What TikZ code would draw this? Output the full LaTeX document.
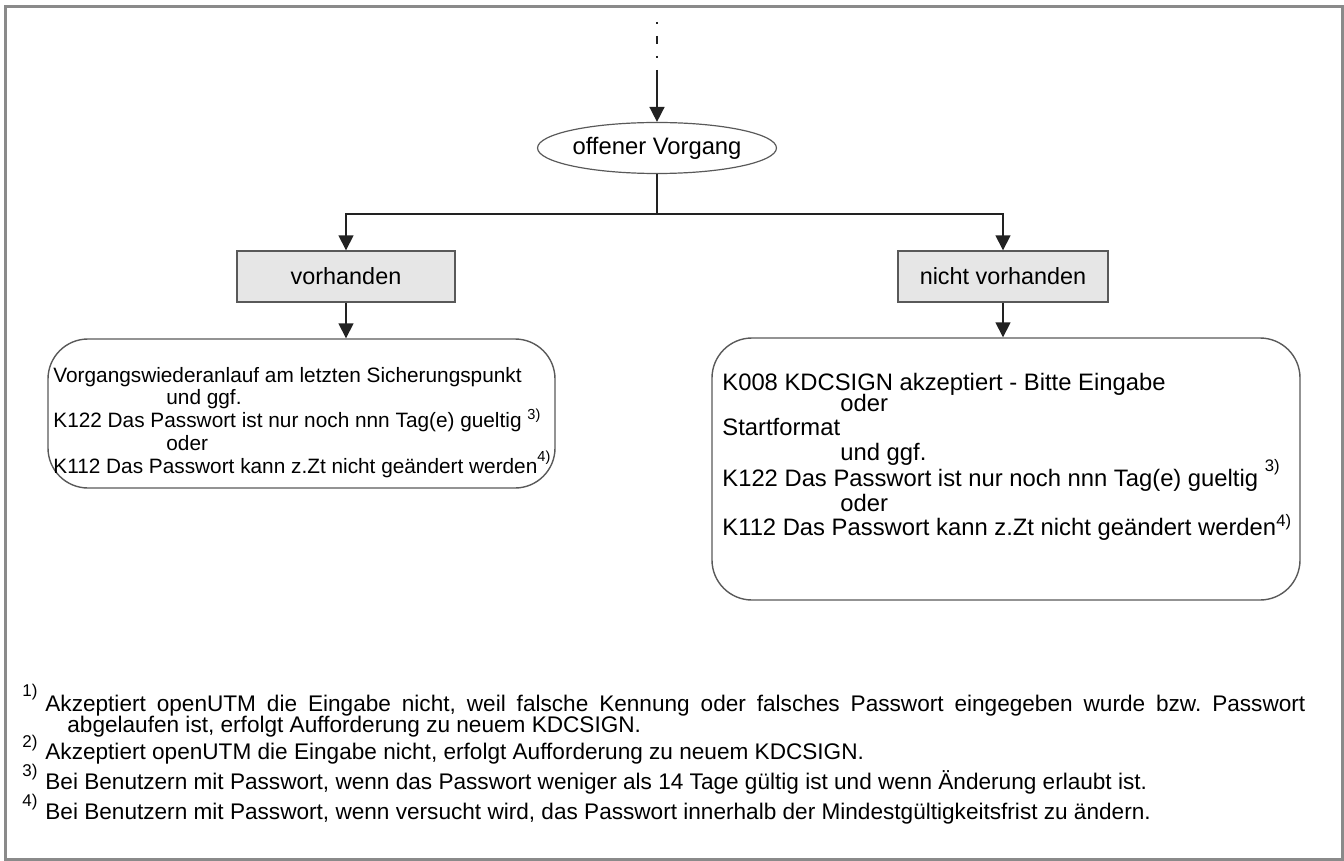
\documentclass[tikz,border=0pt]{standalone}
\usepackage{fontspec}
\setmainfont{Liberation Sans}
\usetikzlibrary{arrows.meta,shapes.geometric,positioning}
\frenchspacing

\definecolor{linegray}{HTML}{222222}
\definecolor{boxgray}{HTML}{E6E6E6}
\definecolor{framegray}{HTML}{8A8A8A}

\tikzset{
  flow/.style={draw=linegray, line width=0.8pt, -{Triangle[width=7.5pt,length=7.5pt]}},
  choicebox/.style={draw=black!65, fill=boxgray, line width=0.7pt, minimum height=25.5pt,
    font=\fontsize{11.7}{13}\selectfont},
  msgbox/.style={draw=black!65, line width=0.7pt, rounded corners=20pt},
  lineL/.style={anchor=base west, inner sep=0pt, font=\fontsize{10.4}{12}\selectfont},
  lineR/.style={anchor=base west, inner sep=0pt, font=\fontsize{11.9}{14}\selectfont},
  fnnum/.style={anchor=base west, inner sep=0pt, font=\fontsize{8.5}{10}\selectfont},
  fntext/.style={anchor=base west, inner sep=0pt, font=\fontsize{11.3}{13}\selectfont}
}

\begin{document}
\begin{tikzpicture}[x=0.5pt, y=-0.5pt]

        \useasboundingbox (0,0) rectangle (1344,861);
        \draw[framegray, line width=1.5pt] (5,7) rectangle (1342,859);

        % Einstieg
        \coordinate (entry) at (657,22);
        \coordinate (entryend) at (657,78);
        \draw[linegray, line width=0.8pt, dash pattern=on 1pt off 6pt on 4pt off 6pt] (entry) -- (entryend);

        \node[ellipse, draw=black!65, line width=0.6pt, minimum width=114pt, minimum height=25.5pt,
              inner sep=0pt, font=\fontsize{11.9}{13}\selectfont] (start) at (657,148) {offener Vorgang};
        \draw[flow] (entryend) -- (start);

        % Verzweigung
        \coordinate (split) at (657,214);
        \node[choicebox, minimum width=109pt] (vorh) at (346,276.5) {vorhanden};
        \node[choicebox, minimum width=105pt] (nvorh) at (1003,276.5) {nicht vorhanden};
        \draw[linegray, line width=0.8pt] (start) -- (split);
        \draw[flow] (split) -| (vorh);
        \draw[flow] (split) -| (nvorh);

        % Meldungen
        \node[msgbox, minimum width=253.5pt, minimum height=74.5pt] (msgL) at (301.5,413.5) {};
        \node[msgbox, minimum width=294pt, minimum height=131pt] (msgR) at (1006,469) {};
        \draw[flow] (vorh) -- (vorh |- msgL.north);
        \draw[flow] (nvorh) -- (nvorh |- msgR.north);

        \node[lineL] (l1) at (53,382) {Vorgangswiederanlauf am letzten Sicherungspunkt};
        \node[lineL] (l2) at (166,404) {und ggf.};
        \node[lineL] (l3) at (53,427) {K122 Das Passwort ist nur noch nnn Tag(e) gueltig \textsuperscript{3)}};
        \node[lineL] (l4) at (166,450) {oder};
        \node[lineL] (l5) at (53,473) {K112 Das Passwort kann z.Zt nicht geändert werden\raisebox{2pt}{\textsuperscript{4)}}};

        \node[lineR] (r1) at (722,390) {K008 KDCSIGN akzeptiert - Bitte Eingabe};
        \node[lineR] (r2) at (840,411) {oder};
        \node[lineR] (r3) at (722,435) {Startformat};
        \node[lineR] (r4) at (840,460) {und ggf.};
        \node[lineR] (r5) at (722,486) {K122 Das Passwort ist nur noch nnn Tag(e) gueltig \raisebox{3pt}{\textsuperscript{3)}}};
        \node[lineR] (r6) at (840,511) {oder};
        \node[lineR] (r7) at (722,535) {K112 Das Passwort kann z.Zt nicht geändert werden\textsuperscript{4)}};

        % Fussnoten
        \node[fnnum] (n1) at (22,696) {1)};
        \node[fntext] (f1a) at (45,711) {\makebox[630pt][s]{Akzeptiert openUTM die Eingabe nicht, weil falsche Kennung oder falsches Passwort eingegeben wurde bzw. Passwort}};
        \node[fntext] (f1b) at (67,732) {abgelaufen ist, erfolgt Aufforderung zu neuem KDCSIGN.};
        \node[fnnum] (n2) at (22,747) {2)};
        \node[fntext] (f2) at (45,759) {Akzeptiert openUTM die Eingabe nicht, erfolgt Aufforderung zu neuem KDCSIGN.};
        \node[fnnum] (n3) at (22,776) {3)};
        \node[fntext] (f3) at (45,789) {Bei Benutzern mit Passwort, wenn das Passwort weniger als 14 Tage gültig ist und wenn Änderung erlaubt ist.};
        \node[fnnum] (n4) at (22,806) {4)};
        \node[fntext] (f4) at (45,819) {Bei Benutzern mit Passwort, wenn versucht wird, das Passwort innerhalb der Mindestgültigkeitsfrist zu ändern.};

\end{tikzpicture}
\end{document}
